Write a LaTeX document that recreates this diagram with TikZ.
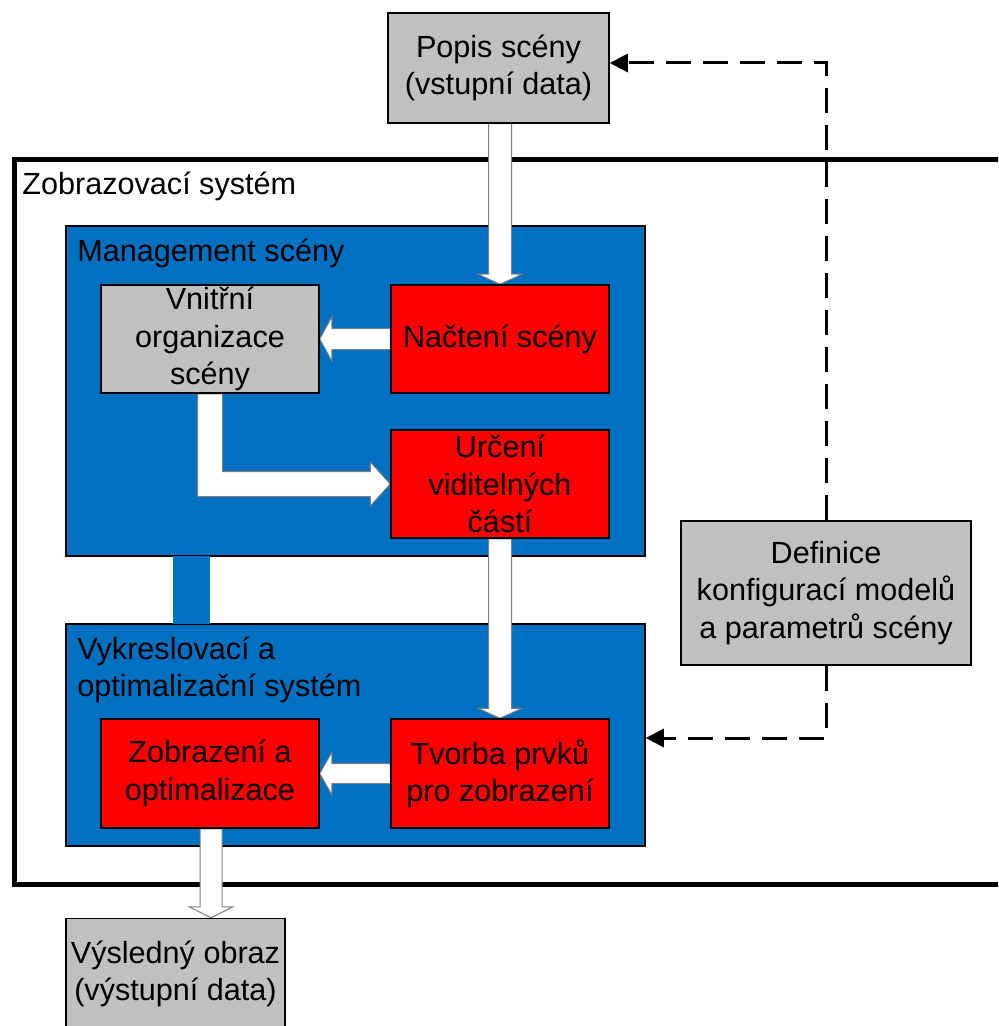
\documentclass[tikz,border=0pt]{standalone}
\usepackage{fontspec}
\setmainfont{Liberation Sans}
\usetikzlibrary{calc,arrows.meta}
\definecolor{boxgray}{HTML}{C0C0C0}
\definecolor{boxred}{HTML}{FF0000}
\definecolor{boxblue}{HTML}{0070C0}
\definecolor{arrowedge}{HTML}{7F7F7F}

\begin{document}
\begin{tikzpicture}[x=0.5pt,y=-0.5pt,
  every node/.style={font=\fontsize{15.3pt}{18.6pt}\selectfont},
  box/.style={draw=black, line width=0.75pt, align=center, inner sep=0pt,
    minimum width=109pt, minimum height=54pt},
  graybox/.style={box, fill=boxgray},
  redbox/.style={box, fill=boxred},
  panel/.style={draw=black, line width=0.75pt, fill=boxblue, inner sep=0pt,
    minimum width=289.5pt},
  title/.style={anchor=west, align=left, inner sep=0pt},
  flow/.style={fill=white, draw=arrowedge, line width=0.5pt, line join=miter},
  feedback/.style={draw=black, line width=1.5pt, dash pattern=on 12.5pt off 6pt,
    -{Triangle[length=9pt,width=9pt]}},
]
\useasboundingbox (0,0) rectangle (998,1026);
\clip (0,0) rectangle (998,1026);

% outer system frame (runs past the right edge)
\node (system) [draw=black, line width=2.5pt, inner sep=0pt, anchor=north west,
  minimum width=520pt, minimum height=362.5pt] at (12,157) {};
\node (systitle) [title] at (22,186) {Zobrazovací systém};

% the two blue sub-systems and the band joining them
\node (mgmt) [panel, minimum height=165pt] at (355.5,391) {};
\node (vykr) [panel, minimum height=111pt] at (355.5,735) {};
\fill[boxblue] ($(mgmt.south west)+(108,-1)$) rectangle ($(vykr.north west)+(145,1)$);
\node (mgmttitle) [title] at (77,253) {Management scény};
\node (vykrtitle) [title] at (77,670) {Vykreslovací a\\optimalizační systém};

% boxes (positions only; drawn after the flow arrows below)
\path
  node (popis) [graybox, minimum width=110.5pt, minimum height=55pt] at (498.5,68) {}
  node (vnit) [graybox] at (210,339) {}
  node (nac) [redbox] at (500,339) {}
  node (urc) [redbox] at (500,484) {}
  node (zobr) [redbox, minimum height=54.5pt] at (210,773.5) {}
  node (tvor) [redbox, minimum height=54.5pt] at (500,773.5) {}
  node (vysl) [graybox, minimum width=109.5pt, minimum height=55pt] at (175.5,973.5) {}
  node (def) [graybox, minimum width=145pt, minimum height=72pt] at (826,593) {};

% block arrows of the data flow
\coordinate (a1) at (nac.north |- popis.south);
\draw[flow] ($(a1)+(-11.5,0)$) -- ($(nac.north)+(-11.5,-10)$) -- ($(nac.north)+(-22,-10)$)
  -- (nac.north) -- ($(nac.north)+(22,-10)$) -- ($(nac.north)+(11.5,-10)$)
  -- ($(a1)+(11.5,0)$) -- cycle;

\draw[flow] ($(nac.west)+(0,-10.5)$) -- ($(vnit.east)+(12,-10.5)$) -- ($(vnit.east)+(12,-22)$)
  -- (vnit.east) -- ($(vnit.east)+(12,22)$) -- ($(vnit.east)+(12,10.5)$)
  -- ($(nac.west)+(0,10.5)$) -- cycle;

\coordinate (a3) at (vnit.south |- urc.west);
\draw[flow] ($(vnit.south)+(-12.5,0)$) -- ($(a3)+(-12.5,12.5)$) -- ($(urc.west)+(-20,12.5)$)
  -- ($(urc.west)+(-20,22)$) -- (urc.west) -- ($(urc.west)+(-20,-22)$)
  -- ($(urc.west)+(-20,-12.5)$) -- ($(a3)+(12.5,-12.5)$) -- ($(vnit.south)+(12.5,0)$) -- cycle;

\coordinate (a4) at (tvor.north |- urc.south);
\draw[flow] ($(a4)+(-11.5,0)$) -- ($(tvor.north)+(-11.5,-10)$) -- ($(tvor.north)+(-22,-10)$)
  -- (tvor.north) -- ($(tvor.north)+(22,-10)$) -- ($(tvor.north)+(11.5,-10)$)
  -- ($(a4)+(11.5,0)$) -- cycle;

\draw[flow] ($(tvor.west)+(0,-10)$) -- ($(zobr.east)+(12,-10)$) -- ($(zobr.east)+(12,-21)$)
  -- (zobr.east) -- ($(zobr.east)+(12,21)$) -- ($(zobr.east)+(12,10)$)
  -- ($(tvor.west)+(0,10)$) -- cycle;

\coordinate (a6top) at ($(zobr.south)+(1,0)$);
\coordinate (a6) at (a6top |- vysl.north);
\draw[flow] ($(a6top)+(-11,0)$) -- ($(a6)+(-11,-11)$) -- ($(a6)+(-22,-11)$)
  -- (a6) -- ($(a6)+(22,-11)$) -- ($(a6)+(11,-11)$) -- ($(a6top)+(11,0)$) -- cycle;

% boxes with their texts
\node [graybox, minimum width=110.5pt, minimum height=55pt] at (popis) {Popis scény\\(vstupní data)};
\node [graybox] at (vnit) {Vnitřní\\organizace\\scény};
\node [redbox] at (nac) {Načtení scény};
\node [redbox] at (urc) {Určení\\viditelných\\částí};
\node [redbox, minimum height=54.5pt] at (zobr) {Zobrazení a\\optimalizace};
\node [redbox, minimum height=54.5pt] at (tvor) {Tvorba prvků\\pro zobrazení};
\node [graybox, minimum width=109.5pt, minimum height=55pt] at (vysl) {Výsledný obraz\\(výstupní data)};
\node [graybox, minimum width=145pt, minimum height=72pt] at (def) {Definice\\konfigurací modelů\\a parametrů scény};

% configuration feedback
\draw[feedback] (def.north) |- ($(popis.east)+(0,-5)$);
\draw[feedback] (def.south) |- ($(vykr.east)+(0,3)$);
\end{tikzpicture}
\end{document}
